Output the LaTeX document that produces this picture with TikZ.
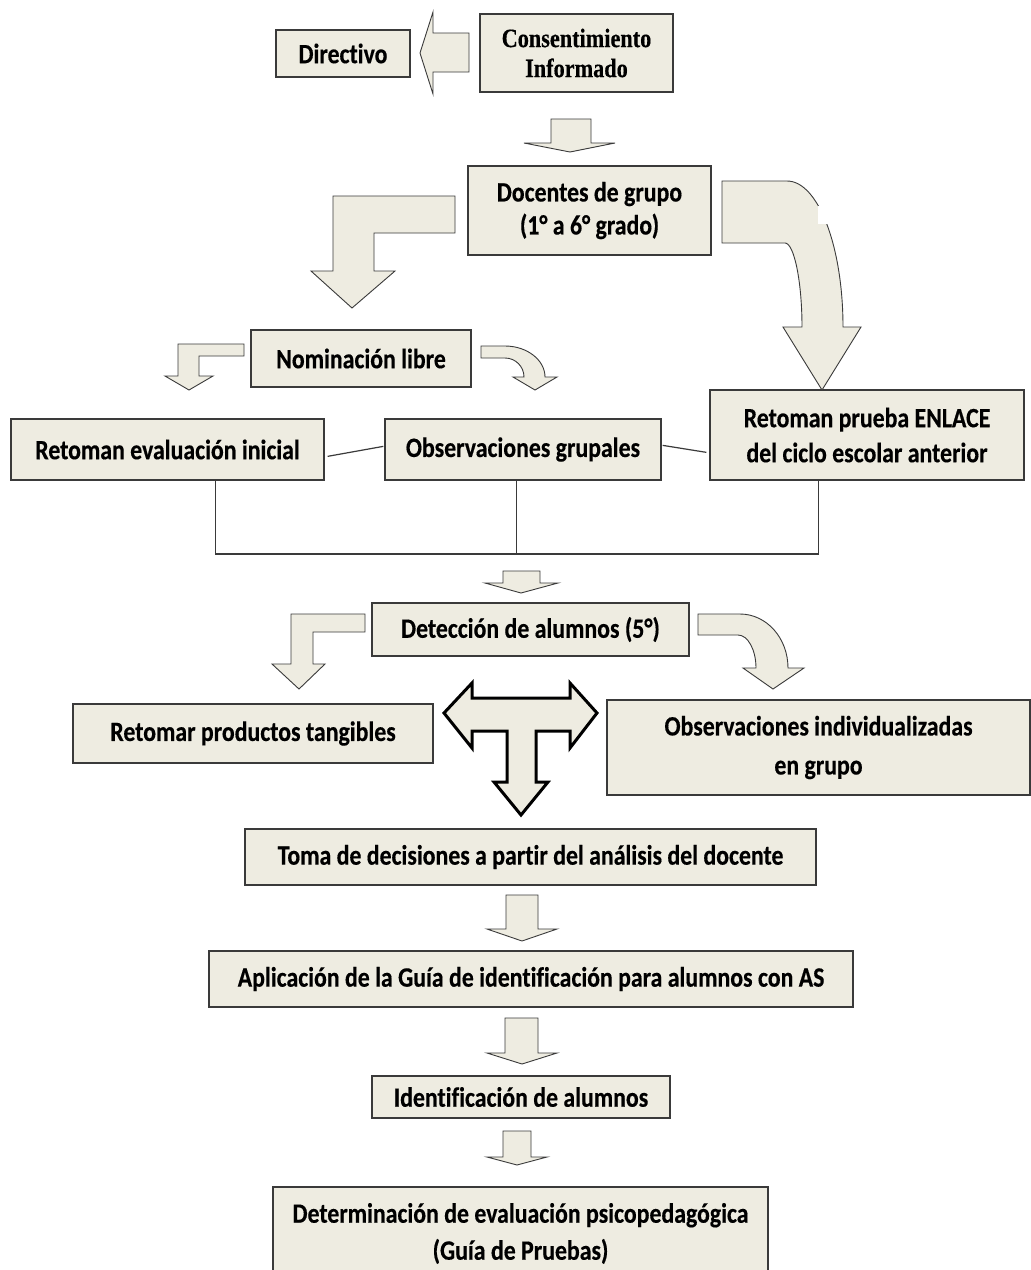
\documentclass[tikz,border=0pt]{standalone}
\usepackage{fontspec}
\usetikzlibrary{calc}
\newfontfamily\carl{Carlito}[FakeStretch=0.85, Ligatures=NoCommon, BoldFeatures={FakeBold=0.4}]
\newfontfamily\consf{Liberation Serif}[FakeStretch=0.84, BoldFeatures={FakeBold=0.4}]
\definecolor{boxfill}{HTML}{EEECE1}
\definecolor{boxline}{HTML}{3A3A3A}
\newcommand\txt[1]{\carl\bfseries\fontsize{28}{#1}\selectfont}
% down-pointing block arrow: centre x, shaft top, shaft left, shaft right, head base, head left, head right, tip y
\newcommand\dnarr[8]{%
  \draw[blockarrow] (#3,#2) -- (#4,#2) -- (#4,#5) -- (#7,#5) -- (#1,#8) -- (#6,#5) -- (#3,#5) -- cycle;}

\begin{document}
\begin{tikzpicture}[x=1pt,y=-1pt,
  box/.style={draw=boxline, fill=boxfill, line width=1.3pt, inner sep=0pt,
              align=center, font=\txt{34}},
  blockarrow/.style={draw=boxline, fill=boxfill, line width=0.9pt, line join=miter},
  tarrow/.style={draw=black, fill=boxfill, line width=3pt, line join=miter},
  link/.style={draw=boxline, line width=1.2pt}]
\useasboundingbox[fill=white] (0,0) rectangle (1031,1270);

% ---- boxes ----
\node[box, minimum width=134, minimum height=47] (dir) at (343,53.5) {Directivo};
\node[box, minimum width=193, minimum height=78, font=\consf\bfseries\fontsize{26.5}{30}\selectfont]
  (cons) at (576.5,53) {Consentimiento\\Informado};
\node[box, minimum width=243, minimum height=89, font=\txt{33}] (doc) at (589.5,210.5)
  {Docentes de grupo\\(1° a 6° grado)};
\node[box, minimum width=220, minimum height=57] (nom) at (361,358.5) {Nominación libre};
\node[box, minimum width=313, minimum height=61] (evi) at (167.5,449.5) {Retoman evaluación inicial};
\node[box, minimum width=276, minimum height=61] (obg) at (523,449.5) {Observaciones grupales};
\node[box, minimum width=314, minimum height=90, font=\txt{35}] (enl) at (867,435)
  {Retoman prueba ENLACE\\del ciclo escolar anterior};
\node[box, minimum width=317, minimum height=53] (det) at (530.5,629.5) {Detección de alumnos (5°)};
\node[box, minimum width=360, minimum height=59] (rpt) at (253,733.5) {Retomar productos tangibles};
\node[box, minimum width=423, minimum height=95, font=\txt{39}] (oin) at (818.5,747.5)
  {Observaciones individualizadas\\en grupo};
\node[box, minimum width=571, minimum height=56] (tom) at (530.5,857)
  {Toma de decisiones a partir del análisis del docente};
\node[box, minimum width=644, minimum height=56] (apl) at (531,979)
  {Aplicación de la Guía de identificación para alumnos con AS};
\node[box, minimum width=298, minimum height=42] (ide) at (521,1097) {Identificación de alumnos};
\node[box, minimum width=495, minimum height=93, font=\txt{37}] (dtm) at (520.5,1233.5)
  {Determinación de evaluación psicopedagógica\\(Guía de Pruebas)};

% ---- links between the three sources ----
\draw[link] ($(evi.north east)+(3,38)$) -- ($(obg.north west)+(-1,28)$);
\draw[link] ($(obg.north east)+(1,27)$) -- ($(enl.north west)+(-3,63)$);
\coordinate (s1) at ($(evi.south west)+(205,0)$);
\coordinate (s2) at ($(obg.south west)+(132,0)$);
\coordinate (s3) at ($(enl.south west)+(109,0)$);
\draw[link] (s1) -- (s1 |- 0,554) -- (s3 |- 0,554) -- (s3);
\draw[link] (s2) -- (s2 |- 0,554);

% ---- block arrows ----
% Consentimiento -> Directivo
\draw[blockarrow] (469,33) -- (433,33) -- (433,12) -- (420,53) -- (433,94) -- (433,72) -- (469,72) -- cycle;
% Consentimiento -> Docentes
\dnarr{570}{119}{551}{591}{143}{524}{615}{152}
% Docentes -> Nominacion (bent)
\draw[blockarrow] (455,196) -- (333,196) -- (333,271) -- (311,271) -- (352,308) -- (395,271)
  -- (374,271) -- (374,233) -- (455,233) -- cycle;
% Docentes -> ENLACE (curved)
\draw[blockarrow] (722,181) -- (787,181) .. controls (818,181) and (843,246) .. (843,327)
  -- (861,327) -- (822,390) -- (783,327) -- (802,327)
  .. controls (802,281) and (794,243) .. (785,243) -- (722,243) -- cycle;
\fill[white] (818,206) rectangle (830,224);
% Nominacion -> left / right
\draw[blockarrow] (244,344) -- (178,344) -- (178,376) -- (165,376) -- (189,390) -- (213,376)
  -- (199,376) -- (199,356) -- (244,356) -- cycle;
\draw[blockarrow] (481,346) -- (505,346) .. controls (527,346) and (545,360) .. (545,377)
  -- (557,377) -- (535,390) -- (513,377) -- (524,377)
  .. controls (524,366.5) and (515.5,358) .. (505,358) -- (481,358) -- cycle;
% bracket -> Deteccion
\dnarr{521}{571}{503}{540}{583}{485}{558}{593}
% Deteccion -> left / right
\draw[blockarrow] (365,614) -- (291,614) -- (291,664) -- (272,664) -- (299,689) -- (325,664)
  -- (313,664) -- (313,632) -- (365,632) -- cycle;
\draw[blockarrow] (698,614) -- (740,614) .. controls (766.5,614) and (788,638) .. (788,668)
  -- (804,668) -- (773,689) -- (743,668) -- (756,668)
  .. controls (756,650) and (748,635) .. (738,635) -- (698,635) -- cycle;
% three-way arrow
\draw[tarrow] (444,713) -- (472,683) -- (472,698) -- (570,698) -- (570,683) -- (597,713)
  -- (570,748) -- (570,731) -- (536,731) -- (536,782) -- (548,782) -- (521,815)
  -- (494,782) -- (507,782) -- (507,731) -- (472,731) -- (472,748) -- cycle;
% lower chain
\dnarr{522}{895}{506}{538}{929}{487}{557}{941}
\dnarr{522}{1018}{505}{538}{1053}{487}{557}{1064}
\dnarr{517}{1131}{503}{531}{1157}{487}{547}{1165}
\end{tikzpicture}
\end{document}
